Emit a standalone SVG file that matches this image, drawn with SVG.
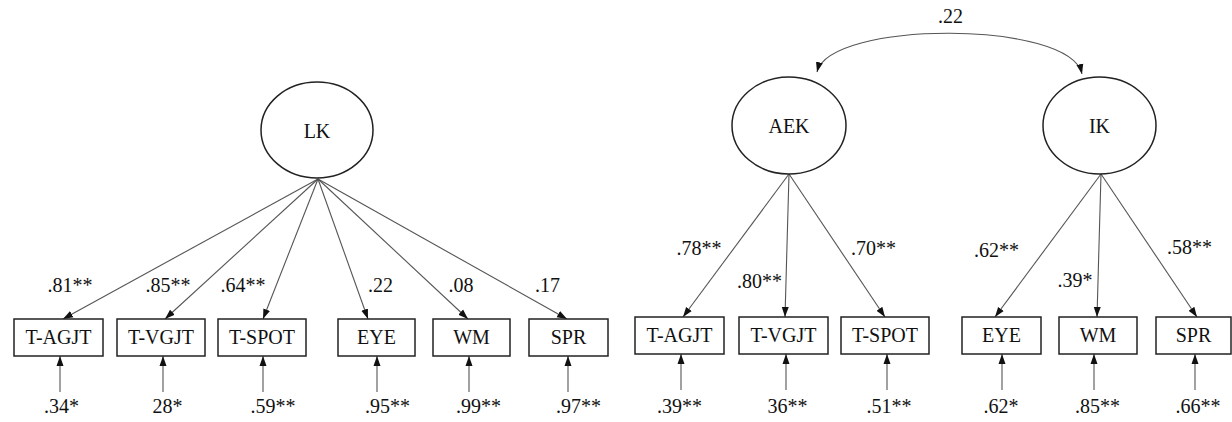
<svg xmlns="http://www.w3.org/2000/svg" width="1232" height="422" viewBox="0 0 1232 422">
<style>
text{font-family:"Liberation Serif",Tinos,"Times New Roman","Nimbus Roman","DejaVu Serif","Noto Serif",serif;font-size:20px;fill:#111;text-anchor:middle}
.box{fill:#fff;stroke:#222;stroke-width:1.5}
.lat{fill:#fff;stroke:#222;stroke-width:1.5}
.ln{fill:none;stroke:#555;stroke-width:1.1;marker-end:url(#ah)}
.cv{fill:none;stroke:#555;stroke-width:1.1;marker-start:url(#ahs);marker-end:url(#ah)}
</style>
<defs>
<marker id="ah" markerUnits="userSpaceOnUse" markerWidth="10" markerHeight="10" viewBox="0 0 10 10" refX="10" refY="5" orient="auto">
<path d="M0,1.5 L10,5 L0,8.5 Z" fill="#111"/>
</marker>
<marker id="ahs" markerUnits="userSpaceOnUse" markerWidth="10" markerHeight="10" viewBox="0 0 10 10" refX="0" refY="5" orient="auto">
<path d="M10,1.5 L0,5 L10,8.5 Z" fill="#111"/>
</marker>
</defs>
<rect width="1232" height="422" fill="#fff"/>

<g id="connectors">
<line class="ln" x1="318" y1="179" x2="63" y2="319"/>
<line class="ln" x1="318" y1="179" x2="165" y2="319"/>
<line class="ln" x1="318" y1="179" x2="263" y2="319"/>
<line class="ln" x1="318" y1="179" x2="368" y2="319"/>
<line class="ln" x1="318" y1="179" x2="468" y2="319"/>
<line class="ln" x1="318" y1="179" x2="567" y2="319"/>
<line class="ln" x1="60" y1="392" x2="60" y2="356"/>
<line class="ln" x1="163" y1="392" x2="163" y2="356"/>
<line class="ln" x1="263" y1="392" x2="263" y2="356"/>
<line class="ln" x1="377" y1="392" x2="377" y2="356"/>
<line class="ln" x1="469" y1="392" x2="469" y2="356"/>
<line class="ln" x1="568" y1="392" x2="568" y2="356"/>

<line class="ln" x1="789" y1="174" x2="683" y2="317"/>
<line class="ln" x1="789" y1="174" x2="785" y2="317"/>
<line class="ln" x1="789" y1="174" x2="885" y2="317"/>
<line class="ln" x1="1101" y1="174" x2="995" y2="317"/>
<line class="ln" x1="1101" y1="174" x2="1097" y2="317"/>
<line class="ln" x1="1101" y1="174" x2="1197" y2="317"/>
<line class="ln" x1="681" y1="390" x2="681" y2="354"/>
<line class="ln" x1="786" y1="390" x2="786" y2="354"/>
<line class="ln" x1="887" y1="390" x2="887" y2="354"/>
<line class="ln" x1="1002" y1="390" x2="1002" y2="354"/>
<line class="ln" x1="1094" y1="390" x2="1094" y2="354"/>
<line class="ln" x1="1195" y1="390" x2="1195" y2="354"/>

<path class="cv" d="M817,72 C830,20 1070,20 1082,74"/>
</g>

<g id="LK"><ellipse class="lat" cx="317" cy="130" rx="56" ry="48"/><text x="317" y="138">LK</text></g>
<g id="AEK"><ellipse class="lat" cx="789" cy="125.5" rx="57" ry="48.5"/><text x="789" y="133">AEK</text></g>
<g id="IK"><ellipse class="lat" cx="1099.5" cy="125.5" rx="56.5" ry="48.5"/><text x="1099.5" y="133">IK</text></g>

<g id="L-TAGJT"><rect class="box" x="14" y="319" width="89" height="37"/><text x="58.5" y="344">T-AGJT</text></g>
<g id="L-TVGJT"><rect class="box" x="117" y="319" width="88" height="37"/><text x="161" y="344">T-VGJT</text></g>
<g id="L-TSPOT"><rect class="box" x="218" y="319" width="88" height="37"/><text x="262" y="344">T-SPOT</text></g>
<g id="L-EYE"><rect class="box" x="338" y="319" width="77" height="37"/><text x="376.5" y="344">EYE</text></g>
<g id="L-WM"><rect class="box" x="433" y="319" width="77" height="37"/><text x="471.5" y="344">WM</text></g>
<g id="L-SPR"><rect class="box" x="529" y="319" width="79" height="37"/><text x="568.5" y="344">SPR</text></g>

<g id="R-TAGJT"><rect class="box" x="635" y="317" width="89" height="37"/><text x="679.5" y="342">T-AGJT</text></g>
<g id="R-TVGJT"><rect class="box" x="739" y="317" width="89" height="37"/><text x="783.5" y="342">T-VGJT</text></g>
<g id="R-TSPOT"><rect class="box" x="841" y="317" width="88" height="37"/><text x="885" y="342">T-SPOT</text></g>
<g id="R-EYE"><rect class="box" x="962" y="317" width="79" height="37"/><text x="1001.5" y="342">EYE</text></g>
<g id="R-WM"><rect class="box" x="1059" y="317" width="78" height="37"/><text x="1098" y="342">WM</text></g>
<g id="R-SPR"><rect class="box" x="1156" y="317" width="75" height="37"/><text x="1193.5" y="342">SPR</text></g>

<g id="labels">
<text x="70" y="292">.81**</text>
<text x="168" y="292">.85**</text>
<text x="243" y="292">.64**</text>
<text x="380.5" y="292">.22</text>
<text x="461" y="292">.08</text>
<text x="547.5" y="292">.17</text>
<text x="61.5" y="413">.34*</text>
<text x="167.5" y="413">28*</text>
<text x="273" y="413">.59**</text>
<text x="387.5" y="413">.95**</text>
<text x="478.5" y="413">.99**</text>
<text x="578.5" y="413">.97**</text>

<text x="950.5" y="23">.22</text>
<text x="699" y="255">.78**</text>
<text x="759.5" y="288">.80**</text>
<text x="873.5" y="255">.70**</text>
<text x="996.5" y="257">.62**</text>
<text x="1075" y="287">.39*</text>
<text x="1189.5" y="254">.58**</text>
<text x="679.5" y="413">.39**</text>
<text x="787.5" y="413">36**</text>
<text x="889" y="413">.51**</text>
<text x="1001" y="413">.62*</text>
<text x="1097.5" y="413">.85**</text>
<text x="1198" y="413">.66**</text>
</g>
</svg>
